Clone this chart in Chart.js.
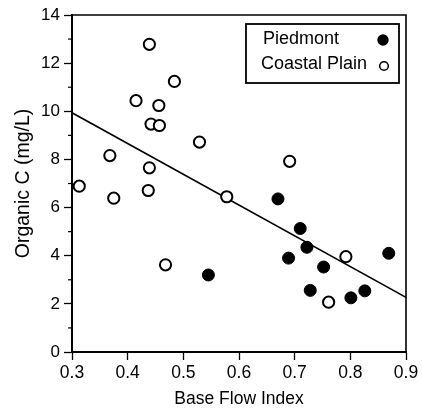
<!DOCTYPE html>
<html>
<head>
<meta charset="utf-8">
<script src="https://cdn.jsdelivr.net/npm/chart.js@4/dist/chart.umd.min.js"></script>
<style>
  html, body { margin: 0; padding: 0; background: #fff; }
  #wrap { width: 422px; height: 411px; }
</style>
</head>
<body>
<div id="wrap"><canvas id="c" width="422" height="411"></canvas></div>
<script>
// ---- data ----
const coastalX = [0.313, 0.368, 0.375, 0.415, 0.439, 0.439, 0.437, 0.442, 0.457, 0.456, 0.484, 0.468, 0.529, 0.578, 0.691, 0.792, 0.761];
const coastalY = [6.89, 8.16, 6.39, 10.44, 12.78, 7.65, 6.71, 9.47, 9.41, 10.24, 11.24, 3.62, 8.72, 6.45, 7.92, 3.96, 2.07];
const piedX = [0.545, 0.670, 0.710, 0.722, 0.689, 0.752, 0.728, 0.801, 0.826, 0.869];
const piedY = [3.20, 6.36, 5.13, 4.35, 3.90, 3.53, 2.56, 2.25, 2.54, 4.10];
const fitX = [0.3, 0.9];
const fitY = [9.94, 2.27];
const seriesNames = ['Piedmont', 'Coastal Plain'];
const xTitle = 'Base Flow Index';
const yTitle = 'Organic C (mg/L)';
const xRange = [0.3, 0.9];
const yRange = [0, 14];

const FONT = "'Liberation Sans', Arial, Helvetica, sans-serif";
const toPts = (xs, ys) => xs.map((x, i) => ({ x: x, y: ys[i] }));

const framePlugin = {
  id: 'frame',
  afterDraw(chart) {
    const { ctx, chartArea: a, scales } = chart;
    ctx.save();
    ctx.strokeStyle = '#000';
    ctx.lineWidth = 1.6;
    ctx.beginPath();
    ctx.moveTo(a.left, a.top);
    ctx.lineTo(a.right, a.top);
    ctx.lineTo(a.right, a.bottom);
    ctx.stroke();
    // minor y ticks
    ctx.lineWidth = 1.2;
    for (let v = yRange[0] + 1; v < yRange[1]; v += 2) {
      const y = scales.y.getPixelForValue(v);
      ctx.beginPath();
      ctx.moveTo(a.left, y);
      ctx.lineTo(a.left - 4, y);
      ctx.stroke();
    }
    // legend box
    const bx = a.right - 160, by = a.top + 9, bw = 153, bh = 59;
    ctx.lineWidth = 1.8;
    ctx.strokeRect(bx, by, bw, bh);
    ctx.fillStyle = '#000';
    ctx.font = '18px ' + FONT;
    ctx.textBaseline = 'alphabetic';
    ctx.textAlign = 'left';
    ctx.fillText(seriesNames[0], bx + 17, by + 20);
    ctx.fillText(seriesNames[1], bx + 15, by + 45);
    ctx.beginPath();
    ctx.arc(bx + 137, by + 16, 5.7, 0, Math.PI * 2);
    ctx.fill();
    ctx.beginPath();
    ctx.arc(bx + 138, by + 42, 4.3, 0, Math.PI * 2);
    ctx.fillStyle = '#fff';
    ctx.fill();
    ctx.lineWidth = 1.6;
    ctx.stroke();
    ctx.restore();
  }
};

new Chart(document.getElementById('c'), {
  type: 'scatter',
  data: {
    datasets: [
      {
        label: seriesNames[0],
        data: toPts(piedX, piedY),
        pointRadius: 6,
        pointBackgroundColor: '#000',
        pointBorderColor: '#000',
        pointBorderWidth: 1,
        order: 0
      },
      {
        label: seriesNames[1],
        data: toPts(coastalX, coastalY),
        pointRadius: 5.6,
        pointBackgroundColor: '#fff',
        pointBorderColor: '#000',
        pointBorderWidth: 2,
        order: 0
      },
      {
        label: 'fit',
        type: 'line',
        data: toPts(fitX, fitY),
        borderColor: '#000',
        borderWidth: 1.7,
        pointRadius: 0,
        fill: false,
        order: 1
      }
    ]
  },
  options: {
    responsive: false,
    animation: false,
    devicePixelRatio: 1,
    layout: { padding: { left: 0, right: 16, top: 15, bottom: 0 } },
    plugins: { legend: { display: false }, tooltip: { enabled: false } },
    scales: {
      x: {
        type: 'linear',
        min: xRange[0], max: xRange[1],
        afterFit(s) { s.height = 59; },
        border: { display: true, color: '#000', width: 2 },
        grid: { drawOnChartArea: false, drawTicks: true, tickLength: 8, tickColor: '#000', tickWidth: 1.3 },
        ticks: {
          stepSize: 0.1, autoSkip: false, maxRotation: 0, padding: 3,
          color: '#000', font: { family: FONT, size: 17.5 },
          callback: v => Number(v).toFixed(1)
        },
        title: { display: true, text: xTitle, color: '#000', font: { family: FONT, size: 17.5 }, padding: { top: 0, bottom: 1 } }
      },
      y: {
        type: 'linear',
        min: yRange[0], max: yRange[1],
        afterFit(s) { s.width = 72; },
        border: { display: true, color: '#000', width: 2 },
        grid: {
          drawOnChartArea: false, drawTicks: true, tickLength: 8, tickWidth: 1.3,
          tickColor: c => (c.tick && c.tick.value % 2 === 0) ? '#000' : 'rgba(0,0,0,0)'
        },
        ticks: {
          stepSize: 1, autoSkip: false, padding: 4,
          color: '#000', font: { family: FONT, size: 17 },
          callback: v => (v % 2 === 0 ? String(v) : '')
        },
        title: { display: true, text: yTitle, color: '#000', font: { family: FONT, size: 19.5 }, padding: { top: 12, bottom: 0 } }
      }
    }
  },
  plugins: [framePlugin]
});
</script>
</body>
</html>
